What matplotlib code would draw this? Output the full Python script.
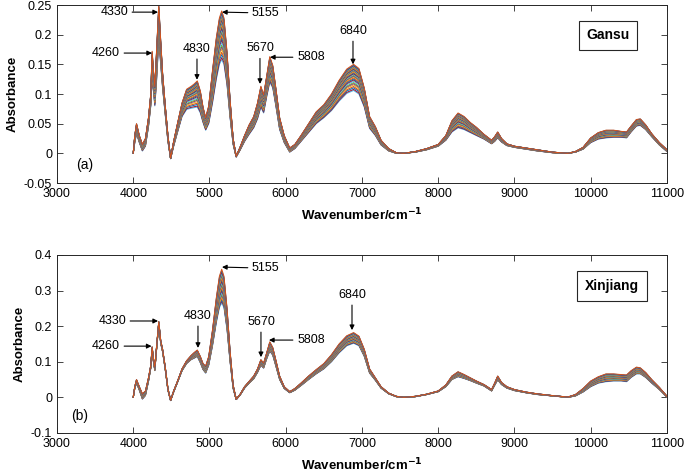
import matplotlib

matplotlib.use("Agg")
import matplotlib.pyplot as plt

# wavenumber grid shared by every spectrum (cm-1)
WAVENUMBER = [
    4000, 4020, 4043, 4080, 4120, 4160, 4200, 4230, 4248, 4265, 4283, 4305,
    4335, 4360, 4385, 4420, 4455, 4490, 4530, 4580, 4640, 4700, 4760, 4800,
    4840, 4880, 4915, 4950, 4990, 5040, 5090, 5130, 5160, 5190, 5230, 5270,
    5310, 5350, 5400, 5460, 5520, 5580, 5630, 5674, 5710, 5750, 5791, 5830,
    5870, 5920, 5980, 6052, 6120, 6200, 6300, 6400, 6500, 6600, 6700, 6800,
    6890, 6960, 7030, 7100, 7175, 7250, 7350, 7450, 7550, 7700, 7850, 8000,
    8100, 8180, 8260, 8340, 8420, 8500, 8600, 8700, 8740, 8780, 8830, 8900,
    9000, 9150, 9300, 9500, 9700, 9800, 9900, 10000, 10100, 10200, 10300,
    10400, 10470, 10530, 10600, 10650, 10720, 10800, 10900, 11000,
]

# highest and lowest spectra
GANSU_HIGH = [
    0.000, 0.030, 0.050, 0.030, 0.015, 0.025, 0.060, 0.100, 0.172, 0.140, 0.112, 0.170,
    0.250, 0.190, 0.135, 0.080, 0.030, -0.008, 0.020, 0.050, 0.085, 0.108, 0.113, 0.117,
    0.122, 0.105, 0.078, 0.060, 0.080, 0.140, 0.195, 0.228, 0.240, 0.228, 0.170, 0.090,
    0.025, -0.005, 0.010, 0.030, 0.048, 0.062, 0.085, 0.113, 0.098, 0.130, 0.163, 0.148,
    0.110, 0.060, 0.030, 0.009, 0.015, 0.030, 0.050, 0.070, 0.082, 0.100, 0.123, 0.142,
    0.150, 0.143, 0.110, 0.062, 0.045, 0.022, 0.008, 0.001, 0.000, 0.003, 0.008, 0.015,
    0.030, 0.055, 0.068, 0.062, 0.052, 0.044, 0.032, 0.022, 0.028, 0.036, 0.025, 0.016,
    0.012, 0.009, 0.006, 0.002, 0.000, 0.003, 0.010, 0.026, 0.035, 0.039, 0.039,
    0.037, 0.036, 0.046, 0.057, 0.058, 0.048, 0.033, 0.018, 0.006,
]
GANSU_LOW = [
    0.000, 0.018, 0.033, 0.018, 0.004, 0.012, 0.045, 0.080, 0.125, 0.105, 0.080, 0.120,
    0.190, 0.150, 0.110, 0.065, 0.020, -0.009, 0.012, 0.035, 0.062, 0.074, 0.076, 0.077,
    0.078, 0.068, 0.052, 0.039, 0.050, 0.085, 0.125, 0.150, 0.158, 0.150, 0.115, 0.060,
    0.015, -0.006, 0.005, 0.020, 0.032, 0.043, 0.058, 0.078, 0.068, 0.095, 0.120, 0.110,
    0.080, 0.040, 0.018, 0.002, 0.008, 0.020, 0.035, 0.050, 0.060, 0.072, 0.088, 0.101,
    0.106, 0.100, 0.078, 0.042, 0.030, 0.014, 0.004, 0.000, 0.000, 0.002, 0.006, 0.012,
    0.022, 0.036, 0.043, 0.040, 0.035, 0.030, 0.024, 0.016, 0.020, 0.026, 0.019, 0.013,
    0.010, 0.007, 0.004, 0.001, 0.000, 0.002, 0.007, 0.018, 0.024, 0.026, 0.027,
    0.027, 0.026, 0.036, 0.046, 0.047, 0.040, 0.028, 0.014, 0.003,
]
XINJIANG_HIGH = [
    0.000, 0.030, 0.050, 0.030, 0.010, 0.018, 0.055, 0.090, 0.142, 0.110, 0.085, 0.140,
    0.213, 0.160, 0.135, 0.085, 0.025, -0.008, 0.018, 0.045, 0.080, 0.103, 0.118, 0.126,
    0.133, 0.115, 0.095, 0.088, 0.115, 0.190, 0.280, 0.340, 0.360, 0.340, 0.250, 0.130,
    0.035, -0.005, 0.008, 0.030, 0.045, 0.060, 0.080, 0.106, 0.096, 0.125, 0.156, 0.140,
    0.105, 0.060, 0.030, 0.016, 0.025, 0.040, 0.060, 0.078, 0.095, 0.120, 0.150, 0.173,
    0.182, 0.172, 0.135, 0.080, 0.055, 0.030, 0.012, 0.003, 0.000, 0.003, 0.009, 0.018,
    0.035, 0.060, 0.072, 0.064, 0.055, 0.046, 0.036, 0.022, 0.040, 0.060, 0.042, 0.030,
    0.022, 0.015, 0.010, 0.005, 0.001, 0.008, 0.025, 0.046, 0.058, 0.066, 0.066,
    0.064, 0.063, 0.075, 0.085, 0.083, 0.070, 0.050, 0.028, 0.003,
]
XINJIANG_LOW = [
    0.000, 0.025, 0.040, 0.020, -0.005, 0.005, 0.045, 0.082, 0.132, 0.100, 0.075, 0.132,
    0.205, 0.152, 0.128, 0.078, 0.020, -0.009, 0.015, 0.042, 0.075, 0.095, 0.106, 0.110,
    0.115, 0.097, 0.078, 0.068, 0.090, 0.145, 0.210, 0.252, 0.265, 0.252, 0.190, 0.100,
    0.025, -0.006, 0.006, 0.026, 0.040, 0.052, 0.070, 0.090, 0.082, 0.108, 0.130, 0.118,
    0.088, 0.050, 0.025, 0.013, 0.020, 0.033, 0.050, 0.066, 0.080, 0.100, 0.125, 0.145,
    0.152, 0.145, 0.115, 0.068, 0.048, 0.026, 0.010, 0.002, 0.000, 0.002, 0.008, 0.016,
    0.030, 0.050, 0.058, 0.053, 0.047, 0.040, 0.032, 0.018, 0.034, 0.049, 0.036, 0.026,
    0.019, 0.013, 0.008, 0.004, 0.000, 0.004, 0.015, 0.030, 0.040, 0.044, 0.046,
    0.046, 0.044, 0.056, 0.066, 0.066, 0.056, 0.040, 0.022, 0.001,
]

# position of each sample between the low and high spectrum (0 = low, 1 = high)
GANSU_WEIGHTS = [
    0.00, 0.04, 0.10, 0.15, 0.21, 0.26, 0.30, 0.35, 0.40, 0.44, 0.48, 0.52,
    0.55, 0.58, 0.61, 0.64, 0.67, 0.70, 0.72, 0.75, 0.77, 0.79, 0.81, 0.83,
    0.85, 0.87, 0.89, 0.91, 0.93, 0.95, 0.97, 1.00,
]
XINJIANG_WEIGHTS = [
    0.00, 0.05, 0.09, 0.14, 0.18, 0.23, 0.27, 0.31, 0.36, 0.40, 0.44, 0.48,
    0.52, 0.56, 0.60, 0.64, 0.68, 0.72, 0.76, 0.80, 0.84, 0.88, 0.92, 0.96,
    1.00,
]

MATLAB_COLORS = ["#0072BD", "#D95319", "#EDB120", "#7E2F8E", "#77AC30", "#4DBEEE", "#A2142F"]

# (label, tip x, tip y, text x, text y, kind)
GANSU_NOTES = [
    ("4330", 4325, 0.238, 3931, 0.238, "left"),
    ("4260", 4246, 0.169, 3826, 0.169, "left"),
    ("4830", 4836, 0.124, 4836, 0.166, "down"),
    ("5155", 5164, 0.238, 5557, 0.2365, "right"),
    ("5670", 5662, 0.117, 5662, 0.167, "down"),
    ("5808", 5793, 0.162, 6148, 0.162, "right"),
    ("6840", 6882, 0.150, 6882, 0.196, "down"),
]
XINJIANG_NOTES = [
    ("4330", 4325, 0.2146, 3905, 0.2146, "left"),
    ("4260", 4240, 0.144, 3826, 0.144, "left"),
    ("4830", 4849, 0.139, 4849, 0.212, "down"),
    ("5155", 5164, 0.366, 5557, 0.363, "right"),
    ("5670", 5675, 0.113, 5675, 0.195, "down"),
    ("5808", 5780, 0.161, 6148, 0.161, "right"),
    ("6840", 6869, 0.189, 6869, 0.271, "down"),
]

plt.rcParams["font.family"] = ["Liberation Sans", "DejaVu Sans"]
plt.rcParams["font.size"] = 9


def draw_panel(ax, low, high, weights, notes, ylim, yticks, region, tag, tag_xy, box_xy):
    # lowest sample cyan, highest one orange-red, as in the MATLAB colour order
    for i, w in enumerate(weights):
        ys = [lo + w * (hi - lo) for lo, hi in zip(low, high)]
        ax.plot(WAVENUMBER, ys, color=MATLAB_COLORS[(i + 5) % len(MATLAB_COLORS)], lw=0.75)

    for label, tx, ty, lx, ly, kind in notes:
        if kind == "left":
            ha, va = "right", "center"
        elif kind == "right":
            ha, va = "left", "center"
        else:
            ha, va = "center", "bottom"
        ax.annotate(
            label, xy=(tx, ty), xytext=(lx, ly), ha=ha, va=va, fontsize=9,
            arrowprops=dict(arrowstyle="-|>", color="k", lw=0.8,
                            mutation_scale=7, shrinkA=1, shrinkB=0),
        )

    ax.text(tag_xy[0], tag_xy[1], tag, ha="center", va="center", fontsize=10)
    ax.text(box_xy[0], box_xy[1], region, ha="center", va="center",
            fontsize=10, fontweight="bold",
            bbox=dict(boxstyle="square,pad=0.55", fc="white", ec="#262626", lw=0.8))

    ax.set_xlim(3000, 11000)
    ax.set_ylim(*ylim)
    ax.set_xticks(range(3000, 11001, 1000))
    ax.set_yticks(yticks)
    ax.set_yticklabels([f"{t:g}" for t in yticks])
    ax.tick_params(direction="in", top=True, right=True, length=4,
                   width=0.6, labelsize=9, colors="#262626", labelcolor="black")
    for s in ax.spines.values():
        s.set_color("#262626")
        s.set_linewidth(0.7)
    ax.set_xlabel(r"Wavenumber/cm$^{\mathbf{-1}}$", fontsize=9.5, fontweight="bold", labelpad=5)
    ax.set_ylabel("Absorbance", fontsize=9.5, fontweight="bold", labelpad=4)


fig = plt.figure(figsize=(6.85, 4.73), dpi=100)
ax_a = fig.add_axes([0.0832, 0.6131, 0.8905, 0.3763])
ax_b = fig.add_axes([0.0832, 0.0846, 0.8905, 0.3763])

draw_panel(ax_a, GANSU_LOW, GANSU_HIGH, GANSU_WEIGHTS, GANSU_NOTES,
           (-0.05, 0.25), [-0.05, 0, 0.05, 0.1, 0.15, 0.2, 0.25],
           "Gansu", "(a)", (3367, -0.02), (10226, 0.199))
draw_panel(ax_b, XINJIANG_LOW, XINJIANG_HIGH, XINJIANG_WEIGHTS, XINJIANG_NOTES,
           (-0.1, 0.4), [-0.1, 0, 0.1, 0.2, 0.3, 0.4],
           "Xinjiang", "(b)", (3300, -0.052), (10279, 0.313))

fig.savefig("out.png", dpi=100)
